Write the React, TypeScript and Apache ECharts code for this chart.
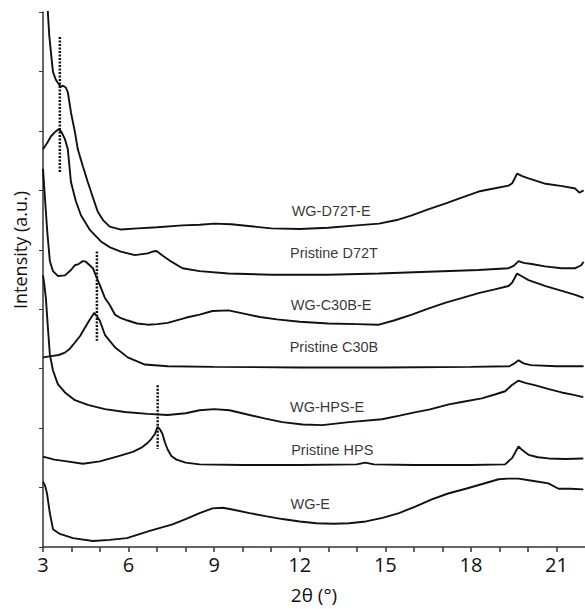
import React, { useEffect, useRef } from "react";
import * as echarts from "echarts";

// 2θ (°) vs intensity (a.u.), stacked XRD patterns (offsets included)
const wgD72TE: number[][] = [
  [3.12, 9.8], [3.17, 9.0], [3.22, 8.6], [3.27, 8.36], [3.35, 7.99], [3.45, 7.86], [3.52, 7.81],
  [3.62, 7.74], [3.7, 7.76], [3.8, 7.73], [3.87, 7.65], [3.98, 7.31], [4.12, 6.98], [4.22, 6.69],
  [4.4, 6.4], [4.57, 6.14], [4.75, 5.88], [4.92, 5.64], [5.12, 5.49], [5.34, 5.39], [5.73, 5.34],
  [6.32, 5.36], [7.0, 5.38], [7.89, 5.41], [8.5, 5.42], [9.0, 5.44], [9.6, 5.43], [10.2, 5.4],
  [11.0, 5.36], [12.0, 5.35], [13.0, 5.37], [14.0, 5.41], [14.78, 5.44], [15.4, 5.5], [15.93, 5.58],
  [16.5, 5.68], [17.12, 5.78], [17.7, 5.88], [18.27, 5.98], [18.8, 6.03], [19.32, 6.08], [19.45, 6.12],
  [19.62, 6.28], [19.8, 6.24], [20.02, 6.2], [20.62, 6.11], [21.2, 6.07], [21.66, 6.03], [21.8, 5.96],
  [21.95, 6.0],
];
const pristineD72T: number[][] = [
  [3.0, 6.69], [3.15, 6.8], [3.28, 6.91], [3.42, 6.98], [3.56, 7.03], [3.65, 6.98], [3.77, 6.86],
  [3.87, 6.69], [3.98, 6.14], [4.15, 5.82], [4.33, 5.58], [4.65, 5.33], [5.03, 5.14], [5.35, 5.04],
  [5.73, 4.97], [6.22, 4.91], [6.67, 4.94], [6.85, 4.97], [6.98, 4.98], [7.2, 4.9], [7.5, 4.8],
  [7.89, 4.69], [8.49, 4.64], [9.5, 4.6], [11.0, 4.58], [13.0, 4.58], [14.78, 4.6], [16.5, 4.63],
  [18.27, 4.66], [19.32, 4.69], [19.5, 4.73], [19.67, 4.81], [19.85, 4.78], [20.13, 4.76],
  [20.6, 4.72], [21.18, 4.69], [21.66, 4.69], [21.87, 4.74], [21.95, 4.8],
];
const wgC30BE: number[][] = [
  [3.0, 6.36], [3.07, 5.86], [3.15, 5.3], [3.24, 4.81], [3.35, 4.64], [3.52, 4.56], [3.77, 4.57],
  [3.98, 4.66], [4.12, 4.74], [4.25, 4.76], [4.4, 4.81], [4.5, 4.8], [4.57, 4.77], [4.75, 4.69],
  [4.85, 4.57], [4.99, 4.41], [5.17, 4.19], [5.34, 4.07], [5.52, 3.91], [5.69, 3.86], [5.97, 3.81],
  [6.3, 3.76], [6.67, 3.74], [7.0, 3.75], [7.37, 3.77], [8.03, 3.86], [8.49, 3.91], [8.94, 3.97],
  [9.5, 3.98], [10.0, 3.93], [10.6, 3.87], [11.2, 3.83], [12.0, 3.79], [13.0, 3.76], [14.0, 3.75],
  [14.78, 3.74], [15.3, 3.81], [15.93, 3.91], [16.5, 4.01], [17.12, 4.11], [17.7, 4.19], [18.27, 4.27],
  [18.8, 4.33], [19.32, 4.39], [19.45, 4.45], [19.62, 4.6], [19.8, 4.55], [20.02, 4.49], [20.62, 4.39],
  [21.1, 4.32], [21.66, 4.24], [21.95, 4.19],
];
const pristineC30B: number[][] = [
  [3.0, 3.19], [3.28, 3.21], [3.55, 3.23], [3.77, 3.27], [3.95, 3.34], [4.12, 3.44], [4.3, 3.55],
  [4.47, 3.69], [4.62, 3.81], [4.8, 3.94], [4.99, 3.81], [5.17, 3.57], [5.52, 3.36], [5.97, 3.19],
  [6.57, 3.07], [7.37, 3.04], [9.0, 3.03], [12.0, 3.02], [15.0, 3.02], [18.0, 3.03], [19.35, 3.04],
  [19.5, 3.08], [19.67, 3.14], [19.85, 3.09], [20.1, 3.06], [21.0, 3.04], [21.95, 3.04],
];
const wgHPSE: number[][] = [
  [3.0, 4.57], [3.05, 4.4], [3.1, 4.19], [3.17, 3.7], [3.24, 3.24], [3.35, 2.97], [3.52, 2.74],
  [3.77, 2.6], [4.12, 2.47], [4.57, 2.39], [5.17, 2.32], [5.87, 2.27], [6.67, 2.24], [7.37, 2.22],
  [8.0, 2.25], [8.49, 2.3], [9.0, 2.32], [9.54, 2.3], [10.24, 2.22], [10.8, 2.16], [11.39, 2.1],
  [12.1, 2.06], [12.79, 2.05], [13.73, 2.1], [14.88, 2.15], [15.5, 2.21], [16.07, 2.27], [16.53, 2.31],
  [17.23, 2.4], [17.68, 2.44], [18.38, 2.5], [18.87, 2.57], [19.2, 2.62], [19.43, 2.72], [19.67, 2.8],
  [19.9, 2.76], [20.27, 2.72], [20.7, 2.66], [21.18, 2.6], [21.6, 2.56], [21.94, 2.52],
];
const pristineHPS: number[][] = [
  [3.0, 1.52], [3.4, 1.47], [3.84, 1.44], [4.4, 1.4], [4.99, 1.44], [5.59, 1.52], [6.15, 1.6],
  [6.45, 1.67], [6.64, 1.74], [6.8, 1.82], [6.92, 1.9], [7.02, 2.02], [7.1, 1.98], [7.19, 1.9],
  [7.28, 1.75], [7.37, 1.64], [7.5, 1.53], [7.68, 1.47], [8.0, 1.42], [8.49, 1.39], [10.0, 1.38],
  [12.0, 1.38], [14.0, 1.39], [14.3, 1.42], [14.6, 1.39], [16.0, 1.38], [18.0, 1.38], [19.2, 1.39],
  [19.45, 1.5], [19.67, 1.69], [19.8, 1.63], [20.02, 1.55], [20.35, 1.51], [20.72, 1.49], [21.3, 1.48],
  [21.94, 1.49],
];
const wgE: number[][] = [
  [3.0, 1.1], [3.08, 1.02], [3.14, 0.9], [3.24, 0.57], [3.35, 0.3], [3.59, 0.22], [4.05, 0.15],
  [4.75, 0.1], [5.34, 0.12], [5.94, 0.15], [6.74, 0.27], [7.54, 0.38], [8.0, 0.47], [8.49, 0.57],
  [8.94, 0.65], [9.3, 0.66], [9.64, 0.63], [10.24, 0.57], [10.8, 0.52], [11.39, 0.47], [12.0, 0.43],
  [12.58, 0.4], [13.2, 0.39], [13.73, 0.4], [14.32, 0.43], [14.9, 0.49], [15.48, 0.57], [16.05, 0.68],
  [16.63, 0.8], [17.2, 0.9], [17.82, 0.98], [18.4, 1.06], [18.97, 1.14], [19.3, 1.15], [19.67, 1.15],
  [20.2, 1.11], [20.72, 1.07], [21.07, 0.98], [21.5, 0.98], [21.94, 0.97],
];

// dotted peak markers: [x, yFrom, yTo]
const markerX = [3.59, 4.89, 7.02];
const markerYFrom = [8.58, 4.97, 2.72];
const markerYTo = [6.31, 3.47, 1.65];

const curveNames = ["WG-D72T-E", "Pristine D72T", "WG-C30B-E", "Pristine C30B", "WG-HPS-E", "Pristine HPS", "WG-E"];
const labelX = [13.1, 13.2, 13.1, 13.2, 12.96, 13.14, 12.37];
const labelY = [5.66, 4.94, 4.07, 3.37, 2.35, 1.64, 0.73];

const curves = [wgD72TE, pristineD72T, wgC30BE, pristineC30B, wgHPSE, pristineHPS, wgE];

export default function App() {
  const ref = useRef<HTMLDivElement>(null);
  useEffect(() => {
    document.body.style.margin = "0";
    const chart = echarts.init(ref.current!, null, { renderer: "svg" });
    const axisColor = "#333";
    const series: any[] = curves.map((d, i) => ({
      type: "line",
      name: curveNames[i],
      data: d,
      showSymbol: false,
      symbol: "none",
      lineStyle: { color: "#111", width: 1.9 },
      silent: true,
      z: 3,
    }));
    markerX.forEach((x, i) => {
      series.push({
        type: "line",
        data: [[x, markerYFrom[i]], [x, markerYTo[i]]],
        symbol: "none",
        lineStyle: { color: "#111", width: 2.5, type: [2, 1.5] },
        silent: true,
        z: 4,
      });
    });
    series.push({
      type: "scatter",
      data: curveNames.map((n, i) => [labelX[i], labelY[i], n]),
      symbolSize: 2,
      itemStyle: { color: "rgba(0,0,0,0)" },
      silent: true,
      label: {
        show: true,
        position: "inside",
        formatter: (p: any) => p.value[2],
        color: "#000",
        fontSize: 14.5,
        fontFamily: "Liberation Sans, Arial, sans-serif",
      },
      z: 5,
    });
    chart.setOption({
      animation: false,
      backgroundColor: "#fff",
      grid: { left: 43, top: 12, bottom: 58, right: -2, containLabel: false },
      xAxis: {
        type: "value",
        min: 3,
        max: 22,
        interval: 1,
        name: "2θ (°)",
        nameLocation: "middle",
        nameGap: 38,
        nameTextStyle: { fontSize: 19, color: "#111", fontFamily: "Open Sans, sans-serif" },
        axisLine: { show: true, lineStyle: { color: axisColor, width: 1.5 } },
        axisTick: { show: true, length: 5, lineStyle: { color: axisColor, width: 1.5 } },
        axisLabel: {
          formatter: (v: number) => (v % 3 === 0 ? String(v) : ""),
          fontSize: 20,
          color: "#111",
          fontFamily: "Open Sans, sans-serif",
          margin: 7,
          showMaxLabel: false,
        },
        splitLine: { show: false },
      },
      yAxis: {
        type: "value",
        min: 0,
        max: 9,
        interval: 1,
        axisLine: { show: true, lineStyle: { color: axisColor, width: 1.5 } },
        axisTick: { show: true, length: 4, lineStyle: { color: axisColor, width: 1 } },
        axisLabel: { show: false },
        splitLine: { show: false },
      },
      graphic: [
        {
          type: "text",
          x: 20,
          y: 250,
          rotation: Math.PI / 2,
          style: {
            text: "Intensity (a.u.)",
            fontSize: 18,
            fontFamily: "Open Sans, sans-serif",
            fill: "#111",
            align: "center",
            verticalAlign: "middle",
          },
        },
      ],
      series,
    });
    return () => chart.dispose();
  }, []);
  return <div ref={ref} style={{ width: 585, height: 609 }} />;
}
